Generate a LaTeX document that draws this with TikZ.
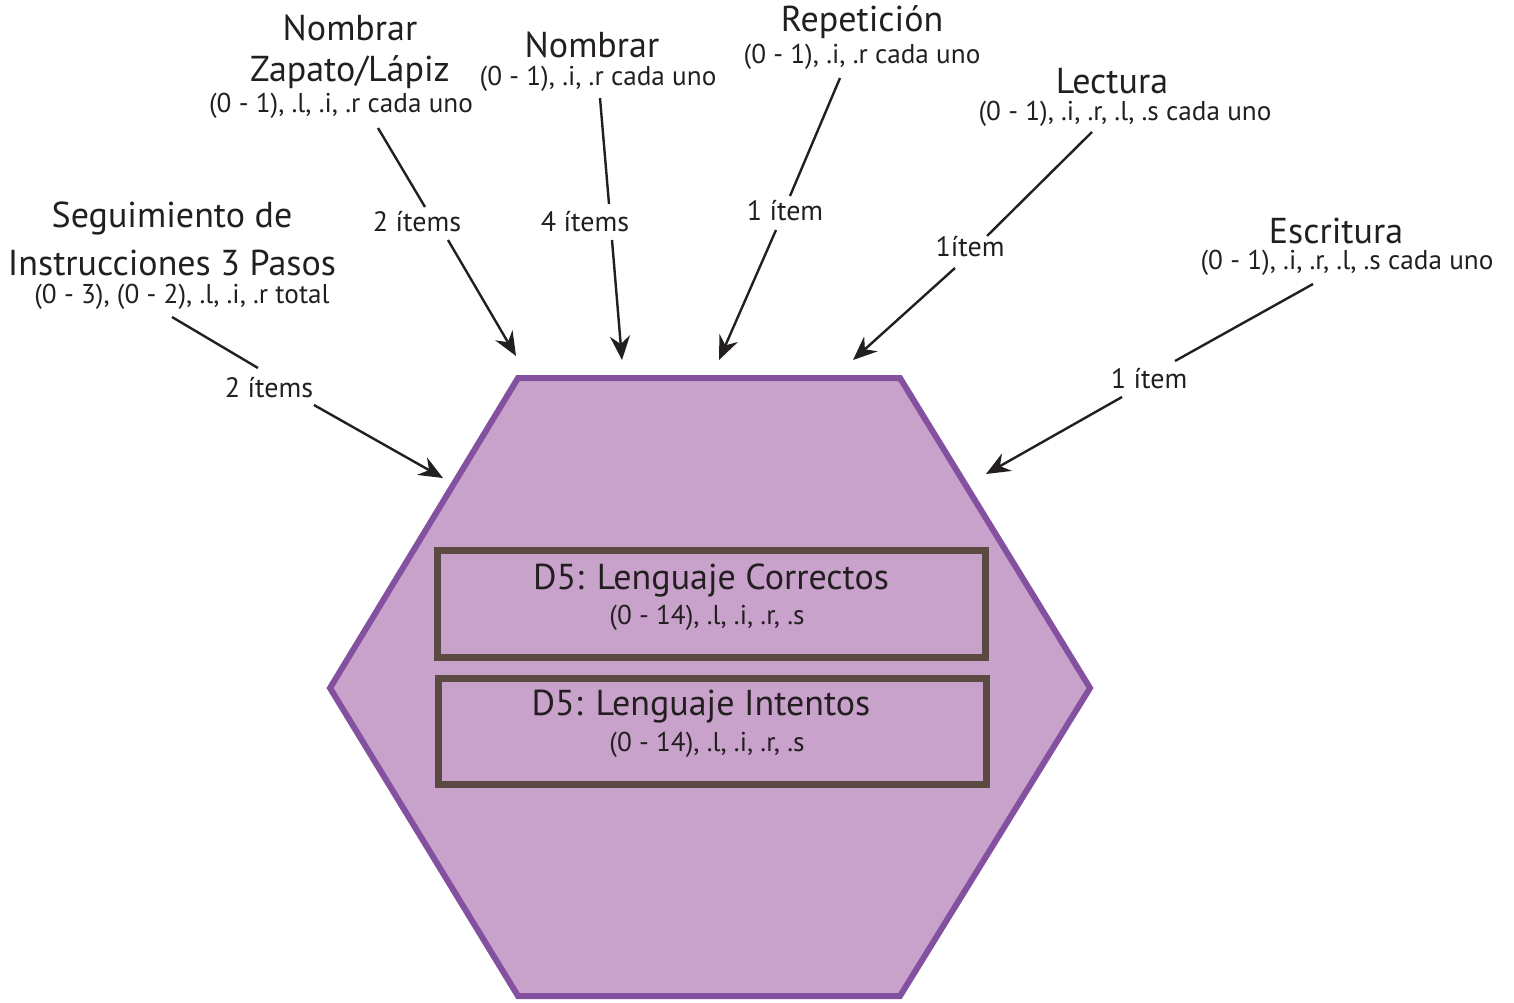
\documentclass[tikz,border=0pt]{standalone}
\usepackage{fontspec}
\setmainfont{PT Sans}
\usetikzlibrary{arrows.meta}
\definecolor{hexfill}{HTML}{C9A2CB}
\definecolor{hexline}{HTML}{8450A0}
\definecolor{boxline}{HTML}{5B4A42}
\definecolor{ink}{HTML}{231F20}
\tikzset{
  ttl/.style={inner sep=0pt, text=ink, font=\fontsize{18}{21}\selectfont},
  sub/.style={inner sep=0pt, text=ink, font=\fontsize{13.6}{16}\selectfont},
  itm/.style={inner sep=0pt, text=ink, font=\fontsize{14}{16}\selectfont},
  conn/.style={draw=ink, line width=1.2pt},
  arr/.style={conn, -{Stealth[length=12pt,width=10pt,inset=4pt]}},
  dbox/.style={draw=boxline, line width=3.5pt}
}
\begin{document}
\begin{tikzpicture}[x=0.5pt,y=-0.5pt]
\useasboundingbox (0,0) rectangle (1514,1002);
% hexagon
\draw[fill=hexfill, draw=hexline, line width=3pt, line join=miter]
  (518,378) coordinate (h1) -- (900,378) coordinate (h2) -- (1090,688) coordinate (h3)
  -- (900,996) coordinate (h4) -- (518,996) coordinate (h5) -- (330,688) coordinate (h6) -- cycle;
% inner boxes
\draw[dbox] (437,550) rectangle (985,657);
\node[ttl] (b1t) at (711,580) {D5: Lenguaje Correctos};
\node[sub] (b1s) at (707,618) {(0 - 14), .l, .i, .r, .s};
\draw[dbox] (438,678) rectangle (986,784);
\node[ttl] (b2t) at (701,707) {D5: Lenguaje Intentos};
\node[sub] (b2s) at (707,745) {(0 - 14), .l, .i, .r, .s};
% titles
\node[ttl] (t1a) at (172,218) {Seguimiento de};
\node[ttl] (t1b) at (172,263) {Instrucciones 3 Pasos};
\node[sub] (t1s) at (182,297) {(0 - 3), (0 - 2), .l, .i, .r total};
\node[ttl] (t2a) at (350,28) {Nombrar};
\node[ttl] (t2b) at (350,72) {Zapato/Lápiz};
\node[sub] (t2s) at (341,106) {(0 - 1), .l, .i, .r cada uno};
\node[ttl] (t3a) at (592,45) {Nombrar};
\node[sub] (t3s) at (598,79) {(0 - 1), .i, .r cada uno};
\node[ttl] (t4a) at (862,22) {Repetición};
\node[sub] (t4s) at (862,57) {(0 - 1), .i, .r cada uno};
\node[ttl] (t5a) at (1112,81) {Lectura};
\node[sub] (t5s) at (1125,114) {(0 - 1), .i, .r, .l, .s cada uno};
\node[ttl] (t6a) at (1336,231) {Escritura};
\node[sub] (t6s) at (1347,263) {(0 - 1), .i, .r, .l, .s cada uno};
% item labels
\node[itm] (i1) at (269,388) {2 ítems};
\node[itm] (i2) at (417,222) {2 ítems};
\node[itm] (i3) at (585,222) {4 ítems};
\node[itm] (i4) at (785,211) {1 ítem};
\node[itm] (i5) at (970,247) {1ítem};
\node[itm] (i6) at (1149,379) {1 ítem};
% connector coordinates
\coordinate (a1s) at (172,317); \coordinate (a1m) at (258,368); \coordinate (a1n) at (314,405); \coordinate (a1e) at (443,478);
\coordinate (a2s) at (378,128); \coordinate (a2m) at (425,207); \coordinate (a2n) at (448,240); \coordinate (a2e) at (516,356);
\coordinate (a3s) at (600,98);  \coordinate (a3m) at (609,204); \coordinate (a3n) at (612,240); \coordinate (a3e) at (622,360);
\coordinate (a4s) at (840,78);  \coordinate (a4m) at (790,196); \coordinate (a4n) at (776,230); \coordinate (a4e) at (719,360);
\coordinate (a5s) at (1092,132);\coordinate (a5m) at (987,236); \coordinate (a5n) at (955,268); \coordinate (a5e) at (853,360);
\coordinate (a6s) at (1313,284);\coordinate (a6m) at (1175,361);\coordinate (a6n) at (1122,397);\coordinate (a6e) at (986,474);
\foreach \k in {1,...,6}{
  \draw[conn] (a\k s) -- (a\k m);
  \draw[arr] (a\k n) -- (a\k e);
}
\end{tikzpicture}
\end{document}
